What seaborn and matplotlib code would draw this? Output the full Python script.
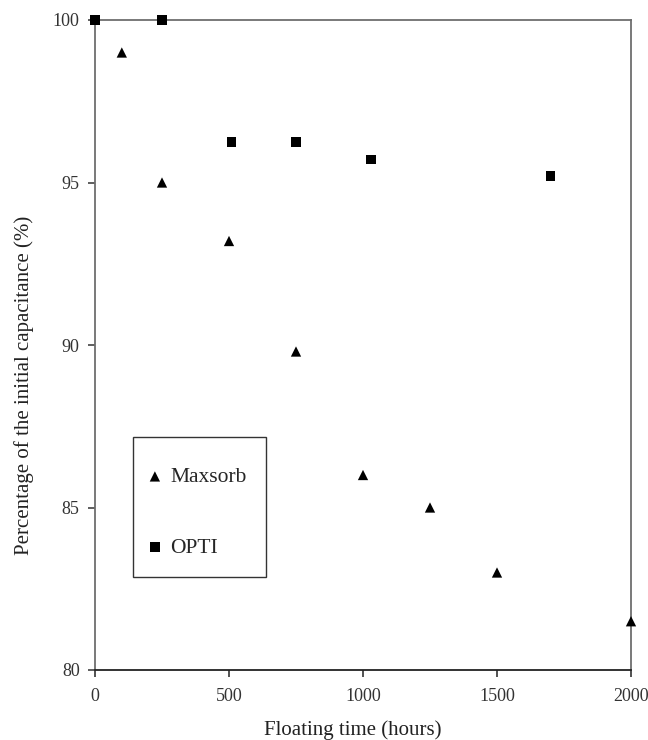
import numpy as np
import pandas as pd
import matplotlib
matplotlib.use("Agg")
import matplotlib.pyplot as plt
from matplotlib.patches import Rectangle
import seaborn as sns

# Maxsorb (triangles)
maxsorb_hours = [100, 250, 500, 750, 1000, 1250, 1500, 2000]
maxsorb_pct = [99.0, 95.0, 93.2, 89.8, 86.0, 85.0, 83.0, 81.5]

# OPTI (squares)
opti_hours = [0, 250, 510, 750, 1030, 1700]
opti_pct = [100.0, 100.0, 96.25, 96.25, 95.7, 95.2]

x_ticks = [0, 500, 1000, 1500, 2000]
y_ticks = [80, 85, 90, 95, 100]


def main():
    sns.set_theme(style="ticks")
    plt.rcParams["font.family"] = ["Liberation Serif", "DejaVu Serif"]

    df = pd.concat([
        pd.DataFrame({"hours": maxsorb_hours, "pct": maxsorb_pct, "carbon": "Maxsorb"}),
        pd.DataFrame({"hours": opti_hours, "pct": opti_pct, "carbon": "OPTI"}),
    ])

    fig = plt.figure(figsize=(6.48, 7.4), dpi=100)
    ax = fig.add_axes([95 / 648, 70 / 740, 536 / 648, 650 / 740])

    sns.scatterplot(data=df[df.carbon == "Maxsorb"], x="hours", y="pct",
                    marker="^", s=55, color="black", edgecolor="none",
                    label="Maxsorb", ax=ax, clip_on=False, zorder=5)
    sns.scatterplot(data=df[df.carbon == "OPTI"], x="hours", y="pct",
                    marker="s", s=45, color="black", edgecolor="none",
                    label="OPTI", ax=ax, clip_on=False, zorder=5)

    ax.set_xlim(0, 2000)
    ax.set_ylim(80, 100)
    ax.set_xticks(x_ticks)
    ax.set_yticks(y_ticks)

    for side in ["left", "top", "right"]:
        ax.spines[side].set_color("#6e6e6e")
        ax.spines[side].set_linewidth(1.3)
    ax.spines["bottom"].set_color("#222222")
    ax.spines["bottom"].set_linewidth(1.3)
    ax.tick_params(axis="both", direction="out", length=5, width=1.1,
                   labelsize=13, colors="#333333", pad=6)
    ax.tick_params(axis="x", color="#222222", pad=8)

    ax.set_xlabel("Floating time (hours)", fontsize=15, color="#222222")
    ax.set_ylabel("Percentage of the initial capacitance (%)", fontsize=15,
                  color="#222222")
    ax.xaxis.set_label_coords(0.481, -0.078)
    ax.yaxis.set_label_coords(-0.113, 0.4385)

    # legend box (square corners) with the entries centred inside it
    box = (0.071, 0.143, 0.248, 0.215)
    ax.add_patch(Rectangle(box[:2], box[2], box[3], transform=ax.transAxes,
                           facecolor="white", edgecolor="#333333",
                           linewidth=1.0, zorder=6))
    leg_anchor = (box[0] - 0.006, box[1] - 0.008, box[2], box[3])
    leg = ax.legend(loc="center", bbox_to_anchor=leg_anchor, frameon=False,
                    fontsize=15.5, handlelength=0.8, handletextpad=0.3,
                    borderpad=0, labelspacing=2.35, borderaxespad=0)
    leg.set_zorder(7)

    fig.savefig("out.png", dpi=100)
    plt.close(fig)


if __name__ == "__main__":
    main()
